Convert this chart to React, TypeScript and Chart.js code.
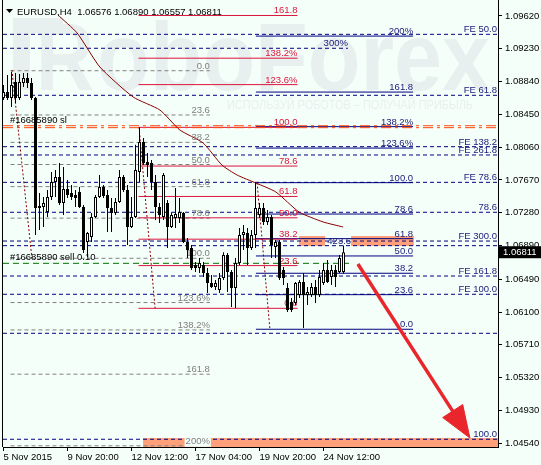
import React, { useEffect, useRef } from "react";
import { Chart, registerables } from "chart.js";

Chart.register(...registerables);

// EURUSD H4 candles, bar index 0 = 5 Nov 2015 04:00
const opens = [
  1.08645, 1.08716, 1.08645, 1.08835, 1.08645, 1.08823, 1.08883, 1.08823, 1.08645, 1.07337,
  1.07349, 1.07289, 1.07468, 1.07646, 1.07706, 1.07396, 1.07563, 1.07515, 1.07491, 1.07527,
  1.07349, 1.06933, 1.06992, 1.0723, 1.07468, 1.07587, 1.07491, 1.07337, 1.07277, 1.07408,
  1.07706, 1.07551, 1.07111, 1.0723, 1.07765, 1.08122, 1.07884, 1.07872, 1.07646, 1.07349,
  1.0723, 1.07396, 1.07111, 1.07218, 1.07218, 1.07277, 1.06933, 1.06861, 1.06659, 1.06624,
  1.06659, 1.06564, 1.06445, 1.06398, 1.06362, 1.06505, 1.06778, 1.06576, 1.06386, 1.06683,
  1.07016, 1.0704, 1.06861, 1.07016, 1.07254, 1.07337, 1.07171, 1.0723, 1.06873, 1.06933,
  1.066, 1.06386, 1.06219, 1.06207, 1.06303, 1.06457, 1.06303, 1.06303, 1.06398, 1.06303,
  1.06445, 1.066, 1.06517, 1.066, 1.06576, 1.06576,
];
const highs = [
  1.08799, 1.08918, 1.08954, 1.08942, 1.0893, 1.08942, 1.08942, 1.08883, 1.08657, 1.07515,
  1.07468, 1.07551, 1.07765, 1.07789, 1.07872, 1.07824, 1.0767, 1.0761, 1.07551, 1.07587,
  1.07372, 1.07052, 1.07277, 1.07491, 1.07729, 1.0761, 1.07551, 1.07456, 1.07456, 1.07789,
  1.07729, 1.0761, 1.07468, 1.0809, 1.083, 1.08169, 1.07991, 1.07908, 1.07729, 1.07396,
  1.07753, 1.07432, 1.07277, 1.07575, 1.07456, 1.07289, 1.0698, 1.06897, 1.06695, 1.06742,
  1.06695, 1.06624, 1.0654, 1.06481, 1.06564, 1.0681, 1.06802, 1.066, 1.06742, 1.07099,
  1.07135, 1.07099, 1.07075, 1.07646, 1.07396, 1.07396, 1.07313, 1.07254, 1.06956, 1.06956,
  1.06636, 1.06445, 1.06267, 1.06457, 1.06481, 1.06564, 1.06398, 1.06445, 1.06481, 1.066,
  1.06683, 1.06719, 1.06659, 1.06659, 1.06778, 1.0689,
];
const lows = [
  1.08621, 1.08621, 1.08538, 1.08585, 1.08621, 1.08776, 1.08764, 1.08621, 1.07016, 1.07075,
  1.07111, 1.0723, 1.07432, 1.07468, 1.07373, 1.07254, 1.07456, 1.07432, 1.07349, 1.07337,
  1.06802, 1.06754, 1.06933, 1.07218, 1.07456, 1.07456, 1.07052, 1.07052, 1.07254, 1.07396,
  1.07527, 1.06897, 1.07099, 1.07218, 1.07646, 1.07848, 1.07706, 1.07551, 1.07194, 1.07159,
  1.07194, 1.06861, 1.07099, 1.07099, 1.07159, 1.06921, 1.06742, 1.066, 1.06576, 1.06564,
  1.06517, 1.06326, 1.06386, 1.06362, 1.06326, 1.06481, 1.06338, 1.0616, 1.06148, 1.06659,
  1.06838, 1.06659, 1.06838, 1.06861, 1.07218, 1.07135, 1.07135, 1.06742, 1.06742, 1.06481,
  1.06422, 1.061, 1.061, 1.06183, 1.06267, 1.0591, 1.06183, 1.06279, 1.06207, 1.06279,
  1.06422, 1.06445, 1.06422, 1.06398, 1.06564, 1.06557,
];
const closes = [
  1.08716, 1.08645, 1.08799, 1.08645, 1.08835, 1.08883, 1.08823, 1.08645, 1.07337, 1.07361,
  1.07396, 1.07468, 1.07646, 1.07706, 1.07396, 1.07563, 1.07491, 1.07468, 1.07456, 1.07349,
  1.06838, 1.0704, 1.0723, 1.07468, 1.07587, 1.0748, 1.07337, 1.07277, 1.07408, 1.07706,
  1.07551, 1.07111, 1.0723, 1.07789, 1.08122, 1.07872, 1.07848, 1.07646, 1.07349, 1.07254,
  1.07729, 1.07111, 1.07254, 1.07266, 1.07289, 1.06933, 1.06838, 1.06624, 1.06624, 1.06683,
  1.06564, 1.06445, 1.06398, 1.06445, 1.06505, 1.06778, 1.06576, 1.06386, 1.06683, 1.07016,
  1.07052, 1.06861, 1.07016, 1.07337, 1.07337, 1.07171, 1.0723, 1.06897, 1.06933, 1.06505,
  1.06505, 1.06124, 1.06124, 1.06445, 1.06457, 1.06303, 1.06338, 1.06398, 1.06303, 1.06517,
  1.066, 1.06457, 1.066, 1.06517, 1.06742, 1.06811,
];

const xTickValues = [0, 16, 32, 48, 64, 80];
const xTickLabels = ["5 Nov 2015", "9 Nov 20:00", "12 Nov 12:00", "17 Nov 04:00", "19 Nov 20:00", "24 Nov 12:00"];
const yTickValues = [1.0962, 1.0923, 1.0884, 1.0845, 1.0806, 1.0767, 1.0728, 1.0689, 1.0649, 1.061, 1.0571, 1.0532, 1.0493, 1.0454];
const X_MIN = -0.125;
const X_MAX = 123.625;
const Y_MIN = 1.04495;
const Y_MAX = 1.0981;

// moving average (read at sparse bars)
const maIndex = [13.6, 18.4, 24.1, 32.4, 39.1, 44.1, 49.9, 54.6, 58.4, 63.1, 68.1, 73.9, 79.9, 84.9];
const maValues = [1.09632, 1.09418, 1.09013, 1.08657, 1.08502, 1.08264, 1.0811, 1.07848, 1.07729, 1.07634, 1.07527, 1.07289, 1.07171, 1.07111];

// Fibonacci tools
const fibRatios = [0, 23.6, 38.2, 50, 61.8, 78.6, 100, 123.6, 138.2, 161.8, 200];
const fibLabels = ["0.0", "23.6", "38.2", "50.0", "61.8", "78.6", "100.0", "123.6%", "138.2%", "161.8", "200%"];
const grayFibPrices = [1.08969, 1.06739];
const grayFibSpan = [1.75, 51.6];
const redFibPrices = [1.06144, 1.08296];
const redFibSpan = [33.75, 73.5];
const navyFibPrices = [1.05895, 1.07638];
const navyFibSpan = [63.1, 102.4];

const trendStartX = [2.1, 33.9, 63.4];
const trendStartY = [1.08978, 1.08296, 1.07638];
const trendEndX = [7.1, 37.9, 66.6];
const trendEndY = [1.06742, 1.06144, 1.05895];

// Fibonacci expansion levels (full width)
const feLevels = [1.09402, 1.08677, 1.08066, 1.07967, 1.07642, 1.07286, 1.06944, 1.06889, 1.06528, 1.06311, 1.05847, 1.04587];
const feLabels = ["FE 50.0", "FE 61.8", "FE 138.2", "FE 261.8", "FE 78.6", "78.6", "FE 300.0", "", "FE 161.8", "FE 100.0", "", "100.0"];
const ext300Price = 1.09236;
const ext300End = 86.1;

// order lines
const slPrices = [1.08315, 1.08292];
const sellPrice = 1.06679;
const sellEnd = 86.6;

const noteTexts = ["#16685890 sl", "#16685890 sell 0.10", "423.6"];
const noteX = [1.6, 1.6, 86.9];
const noteY = [1.08348, 1.06719, 1.06909];

// target zones
const zoneX0 = [73.9, 86.9, 34.9];
const zoneX1 = [80.4, 102.6, 123.625];
const zoneTop = [1.07004, 1.07004, 1.04602];
const zoneBottom = [1.06885, 1.06885, 1.04495];

// arrow
const arrowX = [88.6, 112.3];
const arrowY = [1.06671, 1.04922];
const arrowHeadX = [116.6, 109.8, 114.8];
const arrowHeadY = [1.04602, 1.04845, 1.05];

const BG = "#f5fffa";
const WM = "#e8f0ef";
const FONT = "'Liberation Sans', Arial, sans-serif";
const NAVY = "#000080";
const NAVY_TXT = "#1a1a7a";
const GRAY = "#808080";
const RED = "#dc143c";
const ZONE = "#ffa07a";

export default function App() {
  const ref = useRef<HTMLCanvasElement>(null);

  useEffect(() => {
    const canvas = ref.current!;
    const idx = opens.map((_, i) => i);
    const datasets: any[] = [];

    const hline = (x0: number, x1: number, p: number, color: string, dash: number[], order = 90, width = 1) => ({
      type: "line",
      data: [{ x: x0, y: p }, { x: x1, y: p }],
      borderColor: color,
      borderWidth: width,
      borderDash: dash,
      pointRadius: 0,
      fill: false,
      tension: 0,
      order,
    });

    zoneX0.forEach((x0, i) => {
      const x1 = zoneX1[i];
      datasets.push({
        type: "line",
        data: [
          { x: x0, y: zoneTop[i] },
          { x: x1, y: zoneTop[i] },
          { x: x1, y: zoneBottom[i] },
          { x: x0, y: zoneBottom[i] },
          { x: x0, y: zoneTop[i] },
        ],
        borderColor: "rgba(0,0,0,0)",
        borderWidth: 0,
        backgroundColor: ZONE,
        fill: "shape",
        pointRadius: 0,
        tension: 0,
        order: 100,
      });
    });

    feLevels.forEach((p) => datasets.push(hline(X_MIN, X_MAX, p, NAVY, [4, 3])));
    datasets.push(hline(X_MIN, ext300End, ext300Price, NAVY, [4, 3]));

    fibRatios.forEach((r) => {
      const pg = grayFibPrices[0] + (grayFibPrices[1] - grayFibPrices[0]) * r / 100;
      datasets.push(hline(grayFibSpan[0], grayFibSpan[1], pg, GRAY, [4, 3]));
      const pr = redFibPrices[0] + (redFibPrices[1] - redFibPrices[0]) * r / 100;
      datasets.push(hline(redFibSpan[0], redFibSpan[1], pr, RED, []));
      const pn = navyFibPrices[0] + (navyFibPrices[1] - navyFibPrices[0]) * r / 100;
      datasets.push(hline(navyFibSpan[0], navyFibSpan[1], pn, NAVY, []));
    });

    slPrices.forEach((p) => datasets.push(hline(X_MIN, X_MAX, p, "#ff4a10", [10, 4, 3, 4], 88)));
    datasets.push(hline(X_MIN, sellEnd, sellPrice, "#007000", [6, 4], 88));

    trendStartX.forEach((x0, i) => {
      datasets.push({
        type: "line",
        data: [{ x: x0, y: trendStartY[i] }, { x: trendEndX[i], y: trendEndY[i] }],
        borderColor: "#8b0000",
        borderWidth: 1,
        borderDash: [2, 2],
        pointRadius: 0,
        fill: false,
        order: 85,
      });
    });

    datasets.push({
      type: "line",
      data: maIndex.map((x, i) => ({ x, y: maValues[i] })),
      borderColor: "#8b0000",
      borderWidth: 1,
      pointRadius: 0,
      fill: false,
      tension: 0.2,
      order: 80,
    });

    datasets.push({
      type: "bar",
      label: "wicks",
      data: idx.map((i) => ({ x: i, y: [lows[i], highs[i]] })),
      backgroundColor: "#000",
      borderWidth: 0,
      barThickness: 1,
      grouped: false,
      inflateAmount: 0,
      order: 20,
    });
    datasets.push({
      type: "bar",
      label: "bodies",
      data: idx.map((i) => ({ x: i, y: [opens[i], closes[i]] })),
      backgroundColor: idx.map((i) => (closes[i] >= opens[i] ? "#ffffff" : "#000000")),
      borderColor: "#000",
      borderWidth: 1,
      borderSkipped: false,
      barThickness: 3,
      minBarLength: 1,
      grouped: false,
      inflateAmount: 0,
      order: 10,
    });

    datasets.push({
      type: "line",
      data: arrowX.map((x, i) => ({ x, y: arrowY[i] })),
      borderColor: "#e8262c",
      borderWidth: 3.5,
      pointRadius: 0,
      fill: false,
      order: 5,
    });
    datasets.push({
      type: "line",
      data: [...arrowHeadX, arrowHeadX[0]].map((x, i) => ({ x, y: [...arrowHeadY, arrowHeadY[0]][i] })),
      borderColor: "#e8262c",
      borderWidth: 1,
      backgroundColor: "#e8262c",
      fill: "shape",
      pointRadius: 0,
      tension: 0,
      order: 4,
    });

    const drawLabels = (chart: any) => {
      const { ctx, chartArea, scales } = chart;
      const xs = scales.x;
      const ys = scales.y;
      ctx.save();
      ctx.beginPath();
      ctx.rect(chartArea.left, chartArea.top, chartArea.right - chartArea.left, chartArea.bottom - chartArea.top);
      ctx.clip();
      ctx.font = `9.5px ${FONT}`;
      ctx.textBaseline = "alphabetic";
      ctx.textAlign = "right";
      const fibSets: [number[], number[], string][] = [
        [grayFibPrices, grayFibSpan, GRAY],
        [redFibPrices, redFibSpan, RED],
        [navyFibPrices, navyFibSpan, NAVY_TXT],
      ];
      fibSets.forEach(([pr, span, color], s) => {
        fibRatios.forEach((r, k) => {
          const p = pr[0] + (pr[1] - pr[0]) * r / 100;
          const x = xs.getPixelForValue(span[1]);
          const y = ys.getPixelForValue(p) - 2;
          if (s === 0 && fibLabels[k] === "200%") {
            const w = ctx.measureText(fibLabels[k]).width;
            ctx.fillStyle = BG;
            ctx.fillRect(x - w - 1, y - 9, w + 2, 12);
          }
          ctx.fillStyle = color;
          ctx.fillText(fibLabels[k], x, y);
        });
      });
      ctx.fillStyle = NAVY_TXT;
      feLevels.forEach((p, k) => {
        if (feLabels[k]) ctx.fillText(feLabels[k], chartArea.right - 1, ys.getPixelForValue(p) - 2);
      });
      ctx.fillText("300%", xs.getPixelForValue(ext300End), ys.getPixelForValue(ext300Price) - 2);
      noteTexts.forEach((t, k) => {
        ctx.textAlign = k < 2 ? "left" : "right";
        ctx.fillStyle = k < 2 ? "#000" : NAVY_TXT;
        ctx.fillText(t, xs.getPixelForValue(noteX[k]), ys.getPixelForValue(noteY[k]));
      });
      ctx.restore();
    };

    const overlay = {
      id: "overlay",
      beforeDraw(chart: any) {
        const { ctx, width, height } = chart;
        ctx.save();
        ctx.fillStyle = BG;
        ctx.fillRect(0, 0, width, height);
        ctx.restore();
      },
      beforeDatasetsDraw(chart: any) {
        const { ctx } = chart;
        ctx.save();
        ctx.fillStyle = WM;
        // logo
        ctx.fillRect(13, 18, 17, 72);
        ctx.fillRect(13, 18, 50, 15);
        ctx.font = `bold 96px ${FONT}`;
        ctx.textAlign = "left";
        ctx.textBaseline = "alphabetic";
        ctx.fillText("R", 36, 90, 58);
        ctx.fillText("oboForex", 97, 90, 393);
        ctx.font = `12px ${FONT}`;
        ctx.fillText("ИСПОЛЬЗУЙ РОБОТОВ – ПОЛУЧАЙ ПРИБЫЛЬ", 227, 109, 246);
        ctx.restore();
      },
      beforeDatasetDraw(chart: any, args: any) {
        if (chart.data.datasets[args.index].label === "wicks") drawLabels(chart);
      },
      afterDraw(chart: any) {
        const { ctx, chartArea, scales } = chart;
        ctx.save();
        ctx.strokeStyle = "#000";
        ctx.lineWidth = 1;
        ctx.beginPath();
        ctx.moveTo(2.5, 0);
        ctx.lineTo(2.5, chartArea.bottom);
        ctx.stroke();
        // title
        ctx.fillStyle = "#000";
        ctx.beginPath();
        ctx.moveTo(6, 9);
        ctx.lineTo(13, 9);
        ctx.lineTo(9.5, 13);
        ctx.closePath();
        ctx.fill();
        ctx.font = `9.5px ${FONT}`;
        ctx.textAlign = "left";
        ctx.textBaseline = "alphabetic";
        const n = opens.length - 1;
        ctx.fillText(
          `EURUSD,H4  ${opens[n].toFixed(5)} ${highs[n].toFixed(5)} ${lows[n].toFixed(5)} ${closes[n].toFixed(5)}`,
          17, 14.5
        );
        // current price box
        const py = scales.y.getPixelForValue(closes[n]);
        ctx.fillStyle = "#000";
        ctx.fillRect(chartArea.right + 1, py - 6, 60, 12);
        ctx.fillStyle = "#fff";
        ctx.textBaseline = "middle";
        ctx.fillText(closes[n].toFixed(5), chartArea.right + 5, py);
        ctx.restore();
      },
    };

    const tickFont = { family: FONT, size: 9.5 };
    const chart = new Chart(canvas, {
      type: "bar",
      data: { datasets },
      options: {
        responsive: false,
        animation: false,
        devicePixelRatio: 1,
        events: [],
        layout: { padding: { left: 3, top: 0, right: 0, bottom: 0 }, autoPadding: false },
        plugins: { legend: { display: false }, tooltip: { enabled: false } },
        scales: {
          x: {
            type: "linear",
            min: X_MIN,
            max: X_MAX,
            offset: false,
            grid: { display: true, offset: false, drawOnChartArea: false, drawTicks: true, tickLength: 4, color: "#000" },
            border: { display: true, color: "#000" },
            ticks: {
              align: "start",
              autoSkip: false,
              maxRotation: 0,
              minRotation: 0,
              padding: 1,
              color: "#000",
              font: tickFont,
              callback: (v: any) => {
                const k = xTickValues.indexOf(Number(v));
                return k >= 0 ? xTickLabels[k] : "";
              },
            },
            afterBuildTicks: (s: any) => {
              s.ticks = xTickValues.map((v) => ({ value: v }));
            },
            afterFit: (s: any) => {
              s.height = 18;
              s.paddingLeft = 0;
              s.paddingRight = 0;
            },
          },
          y: {
            type: "linear",
            position: "right",
            min: Y_MIN,
            max: Y_MAX,
            grid: { display: true, drawOnChartArea: false, drawTicks: true, tickLength: 4, color: "#000" },
            border: { display: true, color: "#000" },
            ticks: {
              padding: 3,
              color: "#000",
              font: tickFont,
              callback: (v: any) => Number(v).toFixed(5),
            },
            afterBuildTicks: (s: any) => {
              s.ticks = yTickValues.map((v) => ({ value: v }));
            },
            afterFit: (s: any) => {
              s.width = 43;
              s.paddingTop = 0;
              s.paddingBottom = 0;
            },
          },
        },
      } as any,
      plugins: [overlay],
    });
    return () => chart.destroy();
  }, []);

  return (
    <div style={{ position: "absolute", left: 0, top: 0, width: 541, height: 465 }}>
      <canvas ref={ref} width={541} height={465} style={{ display: "block" }} />
    </div>
  );
}
